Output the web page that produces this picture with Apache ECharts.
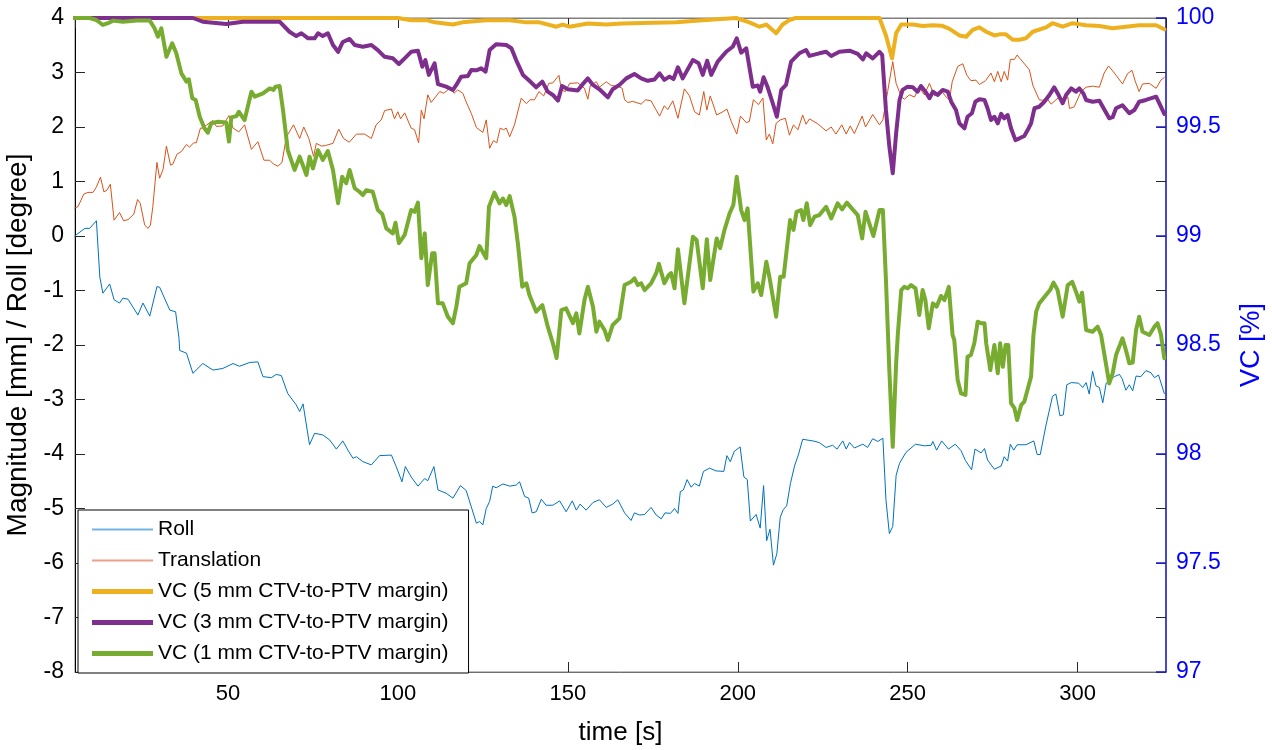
<!DOCTYPE html>
<html lang="en">
<head>
    <meta charset="UTF-8">
    <title>Roll / Translation / VC</title>
    <script src="https://cdn.jsdelivr.net/npm/echarts/dist/echarts.min.js"></script>
    <style>
        html, body { margin: 0; padding: 0; background: #fff; }
        #main { width: 1272px; height: 750px; }
    </style>
</head>
<body>
<div id="main"></div>
<script>
    // ---- data (time in s) ----
    var rollTime = [4.9,7.9,9.3,11.3,12.3,13.2,15.2,16.5,18.1,19.1,20.6,23.5,25.0,27.0,29.1,29.9,32.9,34.6,35.6,35.8,37.8,39.7,42.6,45.6,48.5,51.5,53.4,56.4,58.8,60.3,62.8,64.2,65.7,67.6,70.1,71.1,72.1,74.0,75.5,77.9,79.9,81.9,83.8,85.3,86.8,87.8,89.7,92.2,94.6,98.1,99.5,101.2,102.2,103.9,105.9,107.9,108.8,110.6,111.8,114.2,116.2,118.4,120.1,121.6,123.1,124.0,125.0,126.0,127.0,127.9,128.9,130.9,132.9,134.8,135.8,137.3,138.5,139.5,140.7,142.2,143.6,145.6,147.6,149.5,151.3,152.5,153.6,155.4,157.4,159.3,161.3,163.2,164.7,166.7,168.6,169.6,171.1,172.6,174.5,176.0,177.5,178.6,180.2,181.4,182.4,183.1,184.0,185.1,186.3,187.3,188.7,189.9,191.7,193.6,195.9,196.8,197.8,199.0,200.7,201.8,202.8,203.7,205.4,206.6,207.6,208.5,209.5,210.5,211.5,212.5,213.4,214.4,215.5,216.7,217.9,219.1,222.1,224.0,226.0,227.9,229.2,230.9,231.9,232.9,234.3,236.8,238.2,239.7,241.2,242.7,243.6,244.6,245.6,246.6,247.6,249.5,252.3,254.9,256.9,257.4,258.5,260.0,262.0,264.0,265.7,267.0,268.8,269.8,271.6,272.6,273.5,275.5,277.5,278.4,279.4,280.2,281.2,282.2,284.8,287.1,288.1,289.0,290.7,292.6,293.6,294.8,295.8,296.8,298.1,300.3,301.5,302.5,303.4,304.4,305.4,306.4,307.4,308.4,310.8,312.3,313.1,314.2,315.2,316.2,317.2,318.6,320.1,321.6,322.6,323.8,325.5];
    var rollValue = [0.0,0.14,0.14,0.28,-0.75,-1.05,-0.88,-1.17,-1.23,-1.14,-1.16,-1.45,-1.23,-1.47,-0.93,-0.94,-1.36,-1.39,-1.88,-2.1,-2.15,-2.52,-2.34,-2.46,-2.43,-2.34,-2.39,-2.32,-2.31,-2.58,-2.6,-2.54,-2.56,-2.89,-3.1,-3.22,-3.08,-3.83,-3.62,-3.65,-3.74,-3.91,-3.76,-3.93,-4.08,-4.05,-4.14,-4.2,-4.03,-4.02,-4.23,-4.51,-4.23,-4.42,-4.59,-4.45,-4.49,-4.23,-4.66,-4.72,-4.81,-4.58,-4.67,-4.97,-5.27,-5.24,-5.3,-5.0,-4.87,-4.59,-4.62,-4.55,-4.59,-4.57,-4.51,-4.78,-4.81,-5.08,-5.06,-4.83,-4.94,-4.94,-4.86,-5.06,-4.86,-5.03,-4.92,-5.03,-4.89,-4.84,-4.98,-4.92,-4.84,-5.08,-5.22,-5.08,-5.12,-5.11,-4.98,-5.12,-5.19,-5.08,-5.09,-5.0,-5.09,-4.69,-4.66,-4.47,-4.61,-4.54,-4.59,-4.32,-4.26,-4.31,-4.32,-4.03,-4.14,-3.95,-3.87,-4.42,-4.47,-5.23,-5.11,-5.36,-4.58,-5.59,-5.38,-6.04,-5.83,-5.16,-5.02,-4.95,-4.54,-4.22,-4.0,-3.73,-3.76,-3.79,-3.88,-3.84,-3.91,-3.76,-3.91,-3.79,-3.89,-3.82,-3.88,-3.72,-3.77,-3.71,-4.84,-5.46,-5.33,-4.39,-4.17,-3.97,-3.82,-3.85,-3.84,-3.77,-3.93,-3.76,-3.91,-3.82,-3.94,-4.12,-4.29,-3.91,-3.98,-3.9,-4.11,-4.28,-4.22,-4.05,-4.13,-3.82,-3.93,-3.83,-3.83,-3.76,-4.01,-4.01,-3.47,-2.94,-2.9,-3.3,-3.28,-2.73,-2.69,-2.7,-2.78,-2.69,-2.9,-2.48,-2.75,-2.78,-3.06,-2.7,-2.58,-2.54,-2.62,-2.83,-2.73,-2.84,-2.57,-2.58,-2.47,-2.51,-2.6,-2.55,-2.89];

    var transTime = [4.9,5.9,7.6,8.8,10.3,11.3,12.5,13.5,14.4,15.4,16.5,18.1,19.3,20.6,22.3,23.4,24.2,25.5,26.5,27.2,27.9,29.1,29.9,30.9,31.9,33.1,33.8,35.0,36.3,37.8,38.7,39.9,40.7,41.9,42.6,43.8,45.6,46.6,48.5,50.3,51.5,53.2,54.9,56.9,58.8,60.6,62.3,63.4,64.7,65.9,67.2,69.3,71.1,72.3,73.8,75.2,76.0,77.5,78.7,80.9,82.6,84.0,85.7,87.8,90.2,92.2,93.6,95.1,96.1,98.1,99.0,100.0,100.8,102.0,103.9,104.9,106.1,106.9,107.7,108.8,109.8,111.3,112.3,113.5,114.7,115.5,116.5,117.6,119.1,120.1,121.6,123.1,125.0,126.0,127.0,128.1,129.1,130.1,131.1,131.9,132.9,134.3,136.3,137.8,138.9,140.2,141.5,142.9,144.4,145.6,147.4,148.1,149.3,150.5,152.9,154.9,155.9,156.6,158.4,159.3,161.3,162.8,164.7,166.0,166.7,167.7,169.1,171.6,172.9,174.5,176.0,177.0,178.4,179.4,180.9,182.4,184.3,185.8,187.3,188.7,190.0,190.9,191.9,193.8,195.6,196.8,198.1,199.7,200.8,202.5,203.4,204.6,206.1,207.4,208.4,209.3,210.3,211.3,212.5,214.0,215.2,216.4,217.7,219.1,220.1,221.1,223.5,226.0,227.5,228.9,230.6,231.9,233.1,234.3,236.6,237.6,239.7,241.7,242.7,244.1,245.6,246.6,248.1,249.0,250.5,252.0,253.4,254.9,256.4,257.9,259.8,261.3,262.3,263.1,264.7,266.2,267.4,268.6,270.1,271.1,272.9,274.5,275.5,276.5,277.5,278.4,279.4,280.2,281.4,282.2,283.4,285.8,286.8,288.7,289.7,290.9,292.2,294.2,295.6,297.1,297.6,299.0,301.0,302.5,304.4,306.4,307.8,309.1,310.3,311.3,313.2,314.7,316.0,317.0,318.1,319.1,321.1,323.1,324.5,325.5];
    var transValue = [0.51,0.54,0.77,0.8,0.8,0.9,1.08,0.81,0.84,0.95,0.29,0.43,0.28,0.3,0.4,0.67,0.6,0.2,0.14,0.2,0.54,1.35,1.06,1.22,1.65,1.3,1.32,1.5,1.55,1.68,1.63,1.71,1.71,1.98,1.98,2.04,2.12,2.01,2.02,2.21,1.98,1.91,2.04,1.59,1.73,1.39,1.39,1.32,1.28,1.35,1.82,2.04,1.79,2.0,1.79,1.46,1.7,1.65,1.66,1.7,1.96,1.79,1.72,1.87,1.87,1.79,2.04,2.13,2.3,2.33,2.15,2.28,2.15,2.26,1.98,1.95,1.71,2.31,2.15,2.59,2.45,2.57,2.65,2.62,2.68,2.73,2.62,2.68,2.62,2.46,2.25,1.99,1.9,2.13,1.61,1.75,1.71,1.98,1.95,1.98,1.82,2.04,2.53,2.43,2.5,2.5,2.65,2.57,2.8,2.81,2.95,2.68,2.65,2.8,2.81,2.71,2.51,2.76,2.83,2.73,2.83,2.76,2.75,2.71,2.5,2.45,2.47,2.42,2.5,2.48,2.31,2.2,2.39,2.32,2.48,2.16,2.7,2.57,2.28,2.22,2.65,2.31,2.57,2.22,2.28,2.33,2.1,1.87,2.2,2.08,2.1,2.5,2.41,2.53,1.76,1.87,1.69,2.07,2.13,2.16,1.85,2.04,1.95,2.22,2.05,2.15,2.06,1.93,2.0,1.87,2.04,1.87,2.02,1.88,2.2,2.0,2.23,2.04,2.13,2.65,3.2,2.8,2.56,2.51,2.59,2.55,2.73,2.59,2.8,2.57,2.68,2.55,2.5,2.83,3.11,3.16,2.95,2.85,2.86,2.78,2.85,2.99,2.83,3.02,2.83,3.02,2.86,3.24,3.24,3.32,3.23,3.05,2.77,2.5,2.49,2.53,2.42,2.53,2.49,2.55,2.34,2.37,2.65,2.73,2.75,2.73,2.99,3.12,3.03,2.95,2.79,2.98,3.04,2.83,2.65,2.79,2.8,2.71,2.86,2.91];

    var vc5Time = [4.9,100,104,108.4,110.8,116.2,119,126.0,132.9,137.8,141.7,146.6,148.5,150.5,155.9,161.3,166,172,181.9,189.7,195,199.5,203.4,206.4,208.4,211.3,213.2,215.2,217,241.7,243.6,245.4,246.6,248.1,251.5,254.4,257.4,260,262.3,265.2,267.2,269.1,271.1,273.1,275.5,277,278.9,280.9,282.9,284.8,286.8,290.7,292.6,295.6,298.5,302.5,306.4,310.3,314.2,318.1,323.1,325.5];
    var vc5Value = [100,100,99.99,99.99,99.98,99.97,99.98,99.99,99.99,99.98,99.98,99.96,99.97,99.96,99.975,99.97,99.975,99.977,99.98,99.99,99.995,100,99.98,99.96,99.97,99.93,99.97,99.99,100,100,99.92,99.815,99.93,99.97,99.97,99.963,99.967,99.965,99.95,99.92,99.914,99.945,99.957,99.937,99.92,99.925,99.925,99.9,99.9,99.907,99.937,99.957,99.976,99.96,99.976,99.967,99.963,99.953,99.96,99.967,99.967,99.948];

    var vc3Time = [4.9,39.7,42.6,49.5,54.4,65.2,68.1,70.1,71.6,73.6,75.5,76.5,77.9,79.4,80.9,82.4,83.8,85.8,87.3,89.7,92.2,94.1,96.1,98.5,100.3,102.0,103.9,105.9,107.2,108.1,109.1,110.8,111.8,114.2,116.2,117.2,118.6,120.6,121.6,123.1,124.5,125.8,127.0,128.9,131.9,133.4,134.8,136.8,138.7,140.7,142.5,144.1,145.6,147.1,148.3,150.0,152.9,154.2,155.9,157.4,159.3,161.8,163.2,165.2,167.2,169.6,171.6,173.5,175.5,177.0,178.4,179.9,181.1,182.4,183.8,186.8,188.5,189.7,191.0,192.2,194.1,196.6,198.5,199.7,201.0,202.5,204.4,205.9,206.6,207.6,208.8,210.3,211.5,212.8,214.2,215.7,218.1,220.1,221.1,224.0,226.0,227.5,229.9,232.9,235.3,236.8,237.8,239.7,241.7,242.5,243.6,244.6,245.6,246.6,247.6,248.5,250.0,251.5,252.9,253.9,255.4,256.4,257.4,258.8,260.3,261.8,262.8,264.2,265.2,266.7,267.6,268.9,269.9,271.1,272.6,273.5,274.5,275.5,276.5,277.5,278.4,279.4,280.4,281.7,282.9,284.3,285.3,286.3,287.3,288.7,290.2,291.7,293.1,294.1,295.6,296.6,298.1,299.5,300.5,301.7,302.5,304.4,306.4,307.8,309.3,310.3,311.3,313.2,315.2,316.7,318.1,320.1,323.1,324.5,325.5];
    var vc3Value = [100,100,99.983,99.972,99.983,99.983,99.937,99.917,99.93,99.907,99.907,99.93,99.917,99.93,99.876,99.845,99.89,99.904,99.876,99.868,99.876,99.853,99.822,99.815,99.789,99.815,99.845,99.85,99.777,99.807,99.739,99.792,99.697,99.685,99.67,99.693,99.731,99.734,99.761,99.76,99.769,99.754,99.853,99.88,99.876,99.861,99.807,99.739,99.712,99.682,99.708,99.662,99.647,99.621,99.688,99.673,99.667,99.693,99.723,99.693,99.673,99.636,99.673,99.693,99.723,99.743,99.723,99.712,99.718,99.746,99.716,99.731,99.72,99.774,99.723,99.807,99.792,99.739,99.804,99.739,99.8,99.845,99.868,99.907,99.841,99.861,99.685,99.69,99.662,99.728,99.682,99.609,99.547,99.67,99.693,99.8,99.838,99.853,99.826,99.838,99.845,99.826,99.845,99.85,99.835,99.81,99.838,99.815,99.845,99.83,99.578,99.41,99.288,99.471,99.624,99.67,99.685,99.682,99.662,99.688,99.658,99.632,99.662,99.647,99.67,99.662,99.616,99.578,99.517,99.494,99.547,99.563,99.616,99.627,99.624,99.586,99.532,99.547,99.517,99.56,99.54,99.555,99.494,99.44,99.448,99.459,99.486,99.517,99.586,99.593,99.616,99.647,99.682,99.655,99.609,99.647,99.677,99.662,99.677,99.654,99.624,99.616,99.62,99.581,99.54,99.545,99.586,99.6,99.563,99.578,99.616,99.624,99.639,99.593,99.56];

    var vc1Time = [4.9,9.3,11.3,13.2,14.7,16.2,19.1,23.1,27.0,28.4,29.4,30.4,31.9,33.6,34.8,36.3,37.8,38.5,39.5,40.5,41.7,43.1,44.1,45.1,47.1,49.5,50.3,51.0,52.5,53.2,54.9,56.9,57.9,60.3,62.3,63.4,64.0,65.2,66.2,67.6,69.6,71.1,73.1,74.0,75.0,76.5,77.9,79.4,80.9,82.4,83.6,84.8,85.8,87.3,88.7,89.7,90.7,92.6,94.1,95.4,96.6,98.5,99.3,100.3,102.0,103.9,104.9,105.9,106.9,107.9,108.8,110.1,110.8,111.8,113.2,114.7,116.2,117.2,118.1,120.1,121.1,123.1,124.0,126.0,126.8,128.4,129.9,130.9,131.9,132.9,134.3,135.3,136.6,137.8,138.7,140.7,142.5,144.1,145.6,146.7,148.1,149.5,151.5,152.5,153.4,154.9,155.9,157.4,158.4,159.3,160.8,161.8,163.2,165.2,166.7,168.6,169.6,170.6,171.6,172.6,174.5,176.0,176.8,178.4,179.7,180.4,181.4,182.4,184.3,186.8,187.9,189.7,190.9,191.9,193.8,194.8,196.1,197.6,198.7,199.7,201.0,202.0,202.9,204.6,205.9,206.9,208.4,209.3,211.3,212.5,213.5,215.4,216.4,217.3,218.6,219.3,220.3,221.3,222.6,224.0,226.0,227.5,229.4,230.7,232.1,233.8,235.3,236.6,237.6,238.7,239.9,241.7,242.7,243.6,244.6,245.6,246.6,247.1,248.1,249.0,250.0,251.0,252.3,253.4,254.4,255.2,256.2,257.4,258.5,259.8,260.8,262.1,263.2,263.7,264.7,265.7,267.0,267.6,268.6,269.6,270.6,271.6,272.6,273.1,274.3,275.5,276.5,277.2,278.0,278.8,279.6,280.4,281.4,282.2,283.4,284.3,286.3,287.0,287.8,288.7,290.7,291.9,292.9,294.1,295.6,297.1,298.4,299.5,300.5,301.3,302.5,304.4,305.9,306.9,309.3,310.3,311.3,313.2,314.2,315.2,316.2,317.2,318.1,319.1,321.1,322.6,323.5,324.5,325.5];
    var vc1Value = [100,100,99.991,99.968,99.976,99.988,99.983,99.988,99.988,99.953,99.914,99.953,99.822,99.884,99.838,99.746,99.708,99.719,99.632,99.624,99.547,99.494,99.474,99.517,99.524,99.521,99.433,99.544,99.55,99.57,99.532,99.662,99.639,99.654,99.677,99.67,99.685,99.688,99.578,99.394,99.303,99.364,99.28,99.364,99.31,99.394,99.349,99.39,99.303,99.15,99.272,99.242,99.303,99.219,99.203,99.188,99.21,99.203,99.119,99.101,99.035,99.012,99.061,98.967,99.005,99.119,99.111,99.153,98.898,99.012,98.775,98.921,98.921,98.691,98.691,98.63,98.6,98.676,98.767,98.783,98.875,98.913,98.954,98.898,99.134,99.199,99.15,99.172,99.142,99.183,99.089,98.967,98.767,98.783,98.729,98.653,98.683,98.584,98.508,98.44,98.66,98.668,98.6,98.645,98.553,98.706,98.767,98.676,98.561,98.607,98.569,98.523,98.592,98.622,98.775,98.79,98.806,98.775,98.783,98.752,98.783,98.829,98.872,98.783,98.821,98.83,98.76,98.939,98.691,98.997,98.982,98.76,98.985,98.798,98.989,98.944,99.028,99.104,99.142,99.272,99.119,99.073,99.127,98.745,98.783,98.729,98.882,98.813,98.63,98.813,98.813,99.073,99.028,99.111,99.119,99.073,99.15,99.05,99.089,99.096,99.134,99.081,99.15,99.122,99.153,99.122,99.096,98.989,99.111,99.058,99.0,99.119,99.119,98.8,98.385,98.033,98.416,98.55,98.752,98.767,98.76,98.775,98.76,98.638,98.752,98.706,98.577,98.691,98.676,98.725,98.706,98.767,98.546,98.523,98.339,98.278,98.271,98.446,98.454,98.508,98.607,98.6,98.6,98.508,98.385,98.5,98.37,98.508,98.4,98.5,98.5,98.233,98.21,98.156,98.225,98.24,98.355,98.546,98.653,98.691,98.729,98.752,98.786,98.752,98.63,98.775,98.79,98.745,98.699,98.74,98.569,98.561,98.584,98.546,98.324,98.37,98.454,98.531,98.477,98.416,98.42,98.569,98.63,98.561,98.546,98.584,98.6,98.55,98.439];

    var seriesNames = ['Roll', 'Translation', 'VC (5 mm CTV-to-PTV margin)', 'VC (3 mm CTV-to-PTV margin)', 'VC (1 mm CTV-to-PTV margin)'];

    // pair up time and value arrays for the value x axis
    function pairs(t, v) {
        return t.map(function (x, i) { return [x, v[i]]; });
    }

    var FONT = '"Liberation Sans", Arial, Helvetica, sans-serif';
    var BLUE = '#0000ff';

    var myChart = echarts.init(document.getElementById('main'), null, {renderer: 'canvas'});

    function line(name, t, v, color, width, yIdx) {
        return {
            name: name,
            type: 'line',
            yAxisIndex: yIdx,
            data: pairs(t, v),
            symbol: 'none',
            clip: false,          // all values are inside the axis ranges anyway
            color: color,
            lineStyle: {color: color, width: width, join: 'round', cap: 'round'}
        };
    }

    var tickStyle = {inside: true, length: 10, lineStyle: {color: '#262626', width: 1}};

    var option = {
        animation: false,
        backgroundColor: '#fff',
        textStyle: {fontFamily: FONT},
        grid: {
            left: 75, right: 106, top: 18, bottom: 78,
            outerBoundsMode: 'none',   // keep the plot box exactly where it is
            show: true, borderColor: '#7f7f7f', borderWidth: 1
        },
        legend: {
            orient: 'vertical',
            left: 78,
            top: 510,
            backgroundColor: '#fff',
            borderColor: '#000',
            borderWidth: 1,
            borderRadius: 0,
            padding: [9, 20, 9, 14],
            itemWidth: 61,
            itemHeight: 20,
            itemGap: 10,
            textStyle: {fontSize: 21, color: '#000', fontFamily: FONT},
            data: [
                {name: seriesNames[0], icon: 'path://M0,0H60V2H0Z', itemStyle: {color: '#72b4e6'}},
                {name: seriesNames[1], icon: 'path://M0,0H60V2H0Z', itemStyle: {color: '#eda087'}},
                {name: seriesNames[2], icon: 'path://M0,0H60V5H0Z'},
                {name: seriesNames[3], icon: 'path://M0,0H60V5H0Z'},
                {name: seriesNames[4], icon: 'path://M0,0H60V5H0Z'}
            ]
        },
        xAxis: [{
            type: 'value',
            min: 5,
            max: 326,
            minInterval: 50,
            maxInterval: 50,
            splitNumber: 6,
            name: 'time [s]',
            nameLocation: 'middle',
            nameGap: 48,
            nameTextStyle: {fontSize: 26, color: '#000', fontFamily: FONT},
            axisLine: {onZero: false, lineStyle: {color: '#6e6e6e', width: 1}},
            axisTick: tickStyle,
            axisLabel: {fontSize: 22, color: '#000', margin: 11, showMinLabel: false, showMaxLabel: false, fontFamily: FONT},
            splitLine: {show: false}
        }, {
            // box top with mirrored ticks
            type: 'value',
            position: 'top',
            min: 5,
            max: 326,
            minInterval: 50,
            maxInterval: 50,
            splitNumber: 6,
            axisLine: {onZero: false, lineStyle: {color: '#7f7f7f', width: 1}},
            axisTick: tickStyle,
            axisLabel: {show: false},
            splitLine: {show: false}
        }],
        yAxis: [{
            type: 'value',
            position: 'left',
            min: -8,
            max: 4,
            interval: 1,
            name: 'Magnitude [mm] / Roll [degree]',
            nameLocation: 'middle',
            nameGap: 38,
            nameTextStyle: {fontSize: 28, color: '#000', fontFamily: FONT},
            axisLine: {show: true, onZero: false, lineStyle: {color: '#000', width: 1}},
            axisTick: tickStyle,
            axisLabel: {fontSize: 23, color: '#000', margin: 11, fontFamily: FONT},
            splitLine: {show: false}
        }, {
            // left-axis ticks mirrored on the right edge
            type: 'value',
            position: 'right',
            min: -8,
            max: 4,
            interval: 1,
            axisLine: {show: false, onZero: false},
            axisTick: tickStyle,
            axisLabel: {show: false},
            splitLine: {show: false}
        }, {
            type: 'value',
            position: 'right',
            min: 97,
            max: 100,
            interval: 0.5,
            name: 'VC [%]',
            nameLocation: 'middle',
            nameGap: 72,
            nameTextStyle: {fontSize: 27, color: BLUE, fontFamily: FONT},
            axisLine: {show: true, onZero: false, lineStyle: {color: '#1f1fd6', width: 1.5}},
            axisTick: {inside: true, length: 10, lineStyle: {color: '#1f1fd6', width: 1.5}},
            axisLabel: {fontSize: 23, color: BLUE, margin: 10, fontFamily: FONT},
            splitLine: {show: false}
        }],
        series: [
            line(seriesNames[0], rollTime, rollValue, '#0072BD', 1, 0),
            line(seriesNames[1], transTime, transValue, '#D95319', 1, 0),
            line(seriesNames[2], vc5Time, vc5Value, '#EDB120', 4, 2),
            line(seriesNames[3], vc3Time, vc3Value, '#7E2F8E', 4, 2),
            line(seriesNames[4], vc1Time, vc1Value, '#77AC30', 4, 2)
        ]
    };

    myChart.setOption(option);
</script>
</body>
</html>
